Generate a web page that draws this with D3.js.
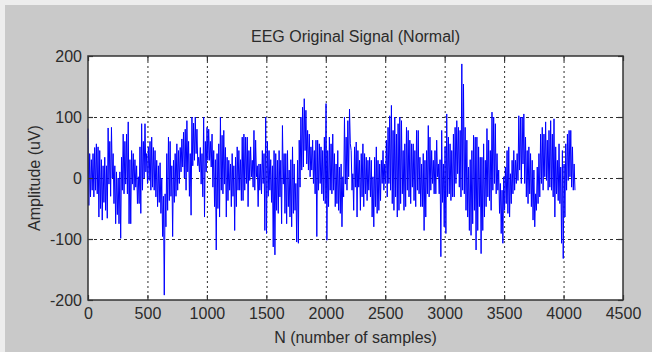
<!DOCTYPE html>
<html>
<head>
<meta charset="utf-8">
<script src="https://cdn.jsdelivr.net/npm/d3@7/dist/d3.min.js"></script>
<style>
  html, body { margin: 0; padding: 0; background: #ededed; }
  svg { display: block; font-family: "Liberation Sans", Arial, sans-serif; }
</style>
</head>
<body>
<svg id="chart" width="652" height="352"></svg>
<script>
// EEG amplitude (uV), block by block (~512 samples each),
// alternating local max / local min as they show in the picture
const lastSample = 4096;
const block1 = [81, -45, 40, -31, 30, -20, 40, -31, 50, -20, 56, -26, 51, -64, 45, -50, 30, -69, 20, -40, 34, -53, 20, -66, 82, -10, 60, -30, 83, 0, 40, -42, 20, -75, 10, -60, 0, -75, 10, -99, 34, -20, 72, -26, 60, -10, 72, -26, 92, -75, 30, -75, 45, -10, 40, -20, 30, -15, 20, -42, 2, -42, 51, -58, 89, -20, 60, 0, 89, 10, 40, -9, 51, -4];
const block2 = [60, -20, 67, -15, 50, -20, 45, -31, 29, -47, 20, -40, 25, -58, 0, -96, -30, -192, -26, -80, 40, -53, 67, -37, 60, -30, 20, -96, 29, -40, 40, -30, 56, -20, 45, -9, 50, 10, 64, 18, 75, 0, 80, -20, 94, 10, 60, -30, 40, -61, 100, 20, 90, 29, 100, 40, 80, 20, 34, 10, 50, -10, 40, -31, 100, -64, 60, 10, 83, 29, 80, 29, 60, 18];
const block3 = [72, -15, 45, -47, 30, -118, 40, -50, 56, -64, 100, -20, 70, -26, 78, -10, 50, -64, 34, -37, 29, -20, 23, -47, 40, -30, 20, -86, 34, -47, 51, -20, 45, -20, 30, -37, 67, -37, 72, -20, 67, -9, 67, -47, 45, -4, 51, 2, 29, -15, 78, -20, 62, 2, 20, -47, 23, -20, 23, -26, 45, -9, 40, -86, 100, -91, 60, -30, 45, -20, 30, -40, 20, -113];
const block4 = [45, -126, 40, -53, 29, -58, 45, -31, 29, -75, 86, -10, 40, -58, 40, -75, 45, -47, 13, -64, 30, -80, 51, -58, 23, -53, -9, -105, 29, -107, 62, -15, 100, 13, 116, 18, 130, 45, 111, 23, 78, 13, 72, 2, 51, 13, 62, -9, 45, -26, 62, -96, 62, -20, 56, -9, 51, -26, 45, -37, 67, -42, 122, -102, 45, -47, 67, -20, 56, -26, 72, -20, 40, -47];
const block5 = [23, -42, 45, -53, 18, -58, 23, -80, 2, -31, 100, -10, 67, -20, 94, 2, 113, 56, 45, -20, 7, -53, 51, -15, 59, -64, 45, -15, 29, -53, 40, -31, 56, -47, 40, -26, 34, -37, 29, -20, 34, -31, 29, -64, 2, -80, 34, -47, 51, -58, 29, -53, 23, -37, 29, -9, 45, -20, 23, -9, 62, -31, 83, -9, 102, -20, 119, -42, 78, -53, 100, -31, 72, -64];
const block6 = [89, -53, 100, -42, 94, -26, 45, -53, 56, -47, 83, -20, 78, -31, 62, -42, 56, -15, 56, -37, 45, -47, 78, -20, 78, -26, 34, -47, 23, -47, 40, -86, 29, -64, 45, -26, 86, -31, 67, -20, 45, -9, 29, -26, 45, -26, 62, 2, 23, -26, 30, -129, 78, -40, 23, -80, 51, -91, 105, -31, 67, -26, 56, -37, 45, -31, 72, -31, 83, -9, 94, 7, 83, -15];
const block7 = [78, -31, 187, -20, 154, -26, 83, -53, 62, -64, 18, -86, 30, -94, 45, -75, 70, -53, 67, -118, 67, -86, 51, -47, 34, -124, 34, -86, 56, -64, 29, -47, 81, -31, 62, -37, 45, -53, 108, -20, 100, -9, 89, -26, 40, -20, 13, -58, -9, -91, -20, -107, 2, -53, 18, -42, 45, -58, 51, -64, 7, -42, 29, -26, 45, -20, 29, -9, 40, -4, 102, 13, 100, -9];
const block8 = [100, 23, 105, -9, 67, -31, 45, -42, 51, -26, 40, -47, 29, -69, 13, -80, -26, -53, 18, -42, 40, -31, 72, -9, 83, -20, 72, 2, 92, -4, 62, -20, 78, -15, 94, -20, 72, -31, 97, -64, 51, -26, 29, -37, 56, -42, 18, -107, 45, -132, 23, -64, 56, -20, 72, -4, 78, 2, 78, -15, 51, -20, 23, -20];

const xTicks = [0, 500, 1000, 1500, 2000, 2500, 3000, 3500, 4000, 4500];
const yTicks = [-200, -100, 0, 100, 200];
const titleText = "EEG Original Signal (Normal)";
const xLabelText = "N (number of samples)";
const yLabelText = "Amplitude (uV)";

const signal = [].concat(block1, block2, block3, block4, block5, block6, block7, block8);
const sampleStep = lastSample / (signal.length - 1);

const W = 652, H = 352;
const margin = { left: 88, right: 29, top: 56, bottom: 52 };
const svg = d3.select("#chart");

// figure background (light edge on top/left like the screenshot)
svg.append("rect").attr("width", W).attr("height", H).attr("fill", "#ededed");
svg.append("rect").attr("x", 5).attr("y", 5).attr("width", W - 5).attr("height", H - 5).attr("fill", "#c9c9c9");

const x = d3.scaleLinear().domain([0, 4500]).range([margin.left, W - margin.right]);
const y = d3.scaleLinear().domain([-200, 200]).range([H - margin.bottom, margin.top]);

svg.append("rect")
  .attr("x", x(0)).attr("y", y(200))
  .attr("width", x(4500) - x(0)).attr("height", y(-200) - y(200))
  .attr("fill", "#ffffff");

// grid
svg.append("g")
  .selectAll("line")
  .data(xTicks.slice(1, -1))
  .join("line")
  .attr("x1", d => x(d) + 0.5).attr("x2", d => x(d) + 0.5)
  .attr("y1", y(200)).attr("y2", y(-200))
  .attr("stroke", "#2e2e2e").attr("stroke-width", 1)
  .attr("stroke-dasharray", "2,3");
svg.append("g")
  .selectAll("line")
  .data(yTicks.slice(1, -1))
  .join("line")
  .attr("x1", x(0)).attr("x2", x(4500))
  .attr("y1", d => y(d) + 0.5).attr("y2", d => y(d) + 0.5)
  .attr("stroke", "#2e2e2e").attr("stroke-width", 1)
  .attr("stroke-dasharray", "3,3");

// signal
const line = d3.line()
  .x((d, i) => x(i * sampleStep))
  .y(d => y(d));
svg.append("path")
  .datum(signal)
  .attr("d", line)
  .attr("fill", "none")
  .attr("stroke", "#0000ff")
  .attr("stroke-width", 1);

// axes, ticks pointing inward on all four sides
function styleAxis(g) {
  g.selectAll(".domain").remove();
  g.selectAll(".tick line").attr("stroke", "#333").attr("stroke-width", 1.2);
  g.selectAll(".tick text")
    .attr("fill", "#2b2b2b")
    .style("font-size", "16px")
    .style("font-family", "'Liberation Sans', Arial, sans-serif");
}
const plain = d => String(d);

svg.append("g")
  .attr("transform", `translate(0,${y(-200)})`)
  .call(d3.axisBottom(x).tickValues(xTicks).tickFormat(plain).tickSizeInner(-5).tickSizeOuter(0).tickPadding(8))
  .call(styleAxis);
svg.append("g")
  .attr("transform", `translate(0,${y(200)})`)
  .call(d3.axisTop(x).tickValues(xTicks).tickFormat("").tickSizeInner(-5).tickSizeOuter(0))
  .call(styleAxis);
svg.append("g")
  .attr("transform", `translate(${x(0)},0)`)
  .call(d3.axisLeft(y).tickValues(yTicks).tickFormat(plain).tickSizeInner(-5).tickSizeOuter(0).tickPadding(6))
  .call(styleAxis);
svg.append("g")
  .attr("transform", `translate(${x(4500)},0)`)
  .call(d3.axisRight(y).tickValues(yTicks).tickFormat("").tickSizeInner(-5).tickSizeOuter(0))
  .call(styleAxis);

// axes box
svg.append("rect")
  .attr("x", x(0)).attr("y", y(200))
  .attr("width", x(4500) - x(0)).attr("height", y(-200) - y(200))
  .attr("fill", "none")
  .attr("stroke", "#333")
  .attr("stroke-width", 1.5);

// labels
svg.append("text")
  .attr("x", (x(0) + x(4500)) / 2).attr("y", 42)
  .attr("text-anchor", "middle")
  .attr("fill", "#2b2b2b").style("font-size", "16px")
  .text(titleText);
svg.append("text")
  .attr("x", (x(0) + x(4500)) / 2).attr("y", 343)
  .attr("text-anchor", "middle")
  .attr("fill", "#2b2b2b").style("font-size", "16px")
  .text(xLabelText);
svg.append("text")
  .attr("transform", `translate(40,${(y(200) + y(-200)) / 2}) rotate(-90)`)
  .attr("text-anchor", "middle")
  .attr("fill", "#2b2b2b").style("font-size", "16px")
  .text(yLabelText);
</script>
</body>
</html>
